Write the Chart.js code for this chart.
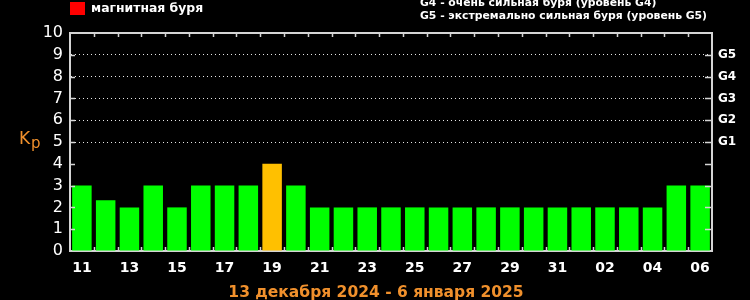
<!DOCTYPE html>
<html>
<head>
<meta charset="utf-8">
<script src="https://cdn.jsdelivr.net/npm/chart.js@4/dist/chart.umd.min.js"></script>
<style>
html,body{margin:0;padding:0;background:#000;}
canvas{display:block;}
</style>
</head>
<body>
<canvas id="c" width="750" height="300"></canvas>
<script>
const days = ['11','12','13','14','15','16','17','18','19','20','21','22','23','24','25','26','27','28','29','30','31','01','02','03','04','05','06'];
const kpValues = [3,2.33,2,3,2,3,3,3,4,3,2,2,2,2,2,2,2,2,2,2,2,2,2,2,2,3,3];
const yTickLabels = ['0','1','2','3','4','5','6','7','8','9','10'];
const gLevels = {5:'G1',6:'G2',7:'G3',8:'G4',9:'G5'};
const periodTitle = '13 декабря 2024 - 6 января 2025';
const legendStorm = 'магнитная буря';
const legendG4 = 'G4 - очень сильная буря (уровень G4)';
const legendG5 = 'G5 - экстремально сильная буря (уровень G5)';

const GREEN = '#00ff00', ORANGE = '#ffc000', RED = '#ff0000';
const AXIS = '#d4d4d4';
const TXT_ORANGE = '#f0902c';

function barColor(v){ return v >= 5 ? RED : (v >= 4 ? ORANGE : GREEN); }

const decor = {
  id: 'decor',
  afterDraw(chart){
    const {ctx, chartArea:a, scales:{x, y}} = chart;
    ctx.save();
    ctx.strokeStyle = AXIS;
    ctx.lineWidth = 2;
    // top frame line
    ctx.beginPath(); ctx.moveTo(a.left-1, a.top); ctx.lineTo(a.right+1, a.top); ctx.stroke();
    ctx.lineWidth = 1.5;
    // inner ticks on y
    for (let v = 1; v <= 9; v++){
      const py = Math.round(y.getPixelForValue(v)) + 0.5;
      ctx.beginPath(); ctx.moveTo(a.left, py); ctx.lineTo(a.left+5, py); ctx.stroke();
      ctx.beginPath(); ctx.moveTo(a.right-7, py); ctx.lineTo(a.right, py); ctx.stroke();
    }
    // inner ticks on x (category boundaries)
    for (let i = 1; i < days.length; i++){
      const px = Math.round((x.getPixelForValue(i-1) + x.getPixelForValue(i))/2) + 0.5;
      ctx.beginPath(); ctx.moveTo(px, a.top); ctx.lineTo(px, a.top+4); ctx.stroke();
      ctx.beginPath(); ctx.moveTo(px, a.bottom); ctx.lineTo(px, a.bottom-4); ctx.stroke();
    }
    // Kp label
    ctx.fillStyle = TXT_ORANGE;
    ctx.textBaseline = 'middle';
    ctx.textAlign = 'left';
    ctx.font = '17px "DejaVu Sans"';
    ctx.fillText('K', 19, 140);
    ctx.font = '15px "DejaVu Sans"';
    ctx.fillText('p', 31, 144);
    // bottom title
    ctx.font = 'bold 15.5px "DejaVu Sans"';
    ctx.textAlign = 'center';
    ctx.fillText(periodTitle, 376, 293);
    // legend
    ctx.fillStyle = RED;
    ctx.fillRect(70, 2, 15, 13);
    ctx.fillStyle = '#ffffff';
    ctx.textAlign = 'left';
    ctx.font = 'bold 12.4px "DejaVu Sans"';
    ctx.fillText(legendStorm, 91, 9);
    ctx.font = 'bold 10.8px "DejaVu Sans"';
    ctx.fillText(legendG4, 420, 3);
    ctx.fillText(legendG5, 420, 16);
    ctx.restore();
  }
};

new Chart(document.getElementById('c'), {
  type: 'bar',
  data: {
    labels: days,
    datasets: [{
      data: kpValues,
      backgroundColor: kpValues.map(barColor),
      borderWidth: 0,
      barPercentage: 0.82,
      categoryPercentage: 1
    }]
  },
  options: {
    responsive: false,
    devicePixelRatio: 1,
    animation: false,
    layout: { padding: { top: 33, left: 0, right: 0, bottom: 0 } },
    plugins: { legend: { display: false }, tooltip: { enabled: false }, title: { display: false } },
    scales: {
      x: {
        type: 'category',
        position: 'bottom',
        grid: { display: false, drawTicks: false },
        border: { display: true, color: AXIS, width: 2 },
        ticks: {
          autoSkip: false, maxRotation: 0, color: '#ffffff', padding: 9,
          font: { family: 'DejaVu Sans', size: 14, weight: 'bold' },
          callback: (val, i) => (i % 2 === 0 ? days[i] : '')
        },
        afterFit: s => { s.height = 49; }
      },
      y: {
        type: 'linear', position: 'left', min: 0, max: 10,
        grid: {
          drawTicks: false, lineWidth: 1,
          color: c => (c.tick && c.tick.value >= 5 && c.tick.value <= 9) ? '#e8e8e8' : 'rgba(0,0,0,0)'
        },
        border: { display: true, color: AXIS, width: 2, dash: [1, 3] },
        ticks: {
          stepSize: 1, autoSkip: false, color: '#ffffff', padding: 7,
          font: { family: 'DejaVu Sans', size: 16 },
          callback: v => yTickLabels[v]
        },
        afterFit: s => { s.width = 70; }
      },
      y2: {
        type: 'linear', position: 'right', min: 0, max: 10,
        grid: { display: false, drawTicks: false },
        border: { display: true, color: AXIS, width: 2 },
        ticks: {
          stepSize: 1, autoSkip: false, color: '#ffffff', padding: 6,
          font: { family: 'DejaVu Sans', size: 12, weight: 'bold' },
          callback: v => gLevels[v] || ''
        },
        afterFit: s => { s.width = 38; }
      }
    }
  },
  plugins: [decor]
});
</script>
</body>
</html>
